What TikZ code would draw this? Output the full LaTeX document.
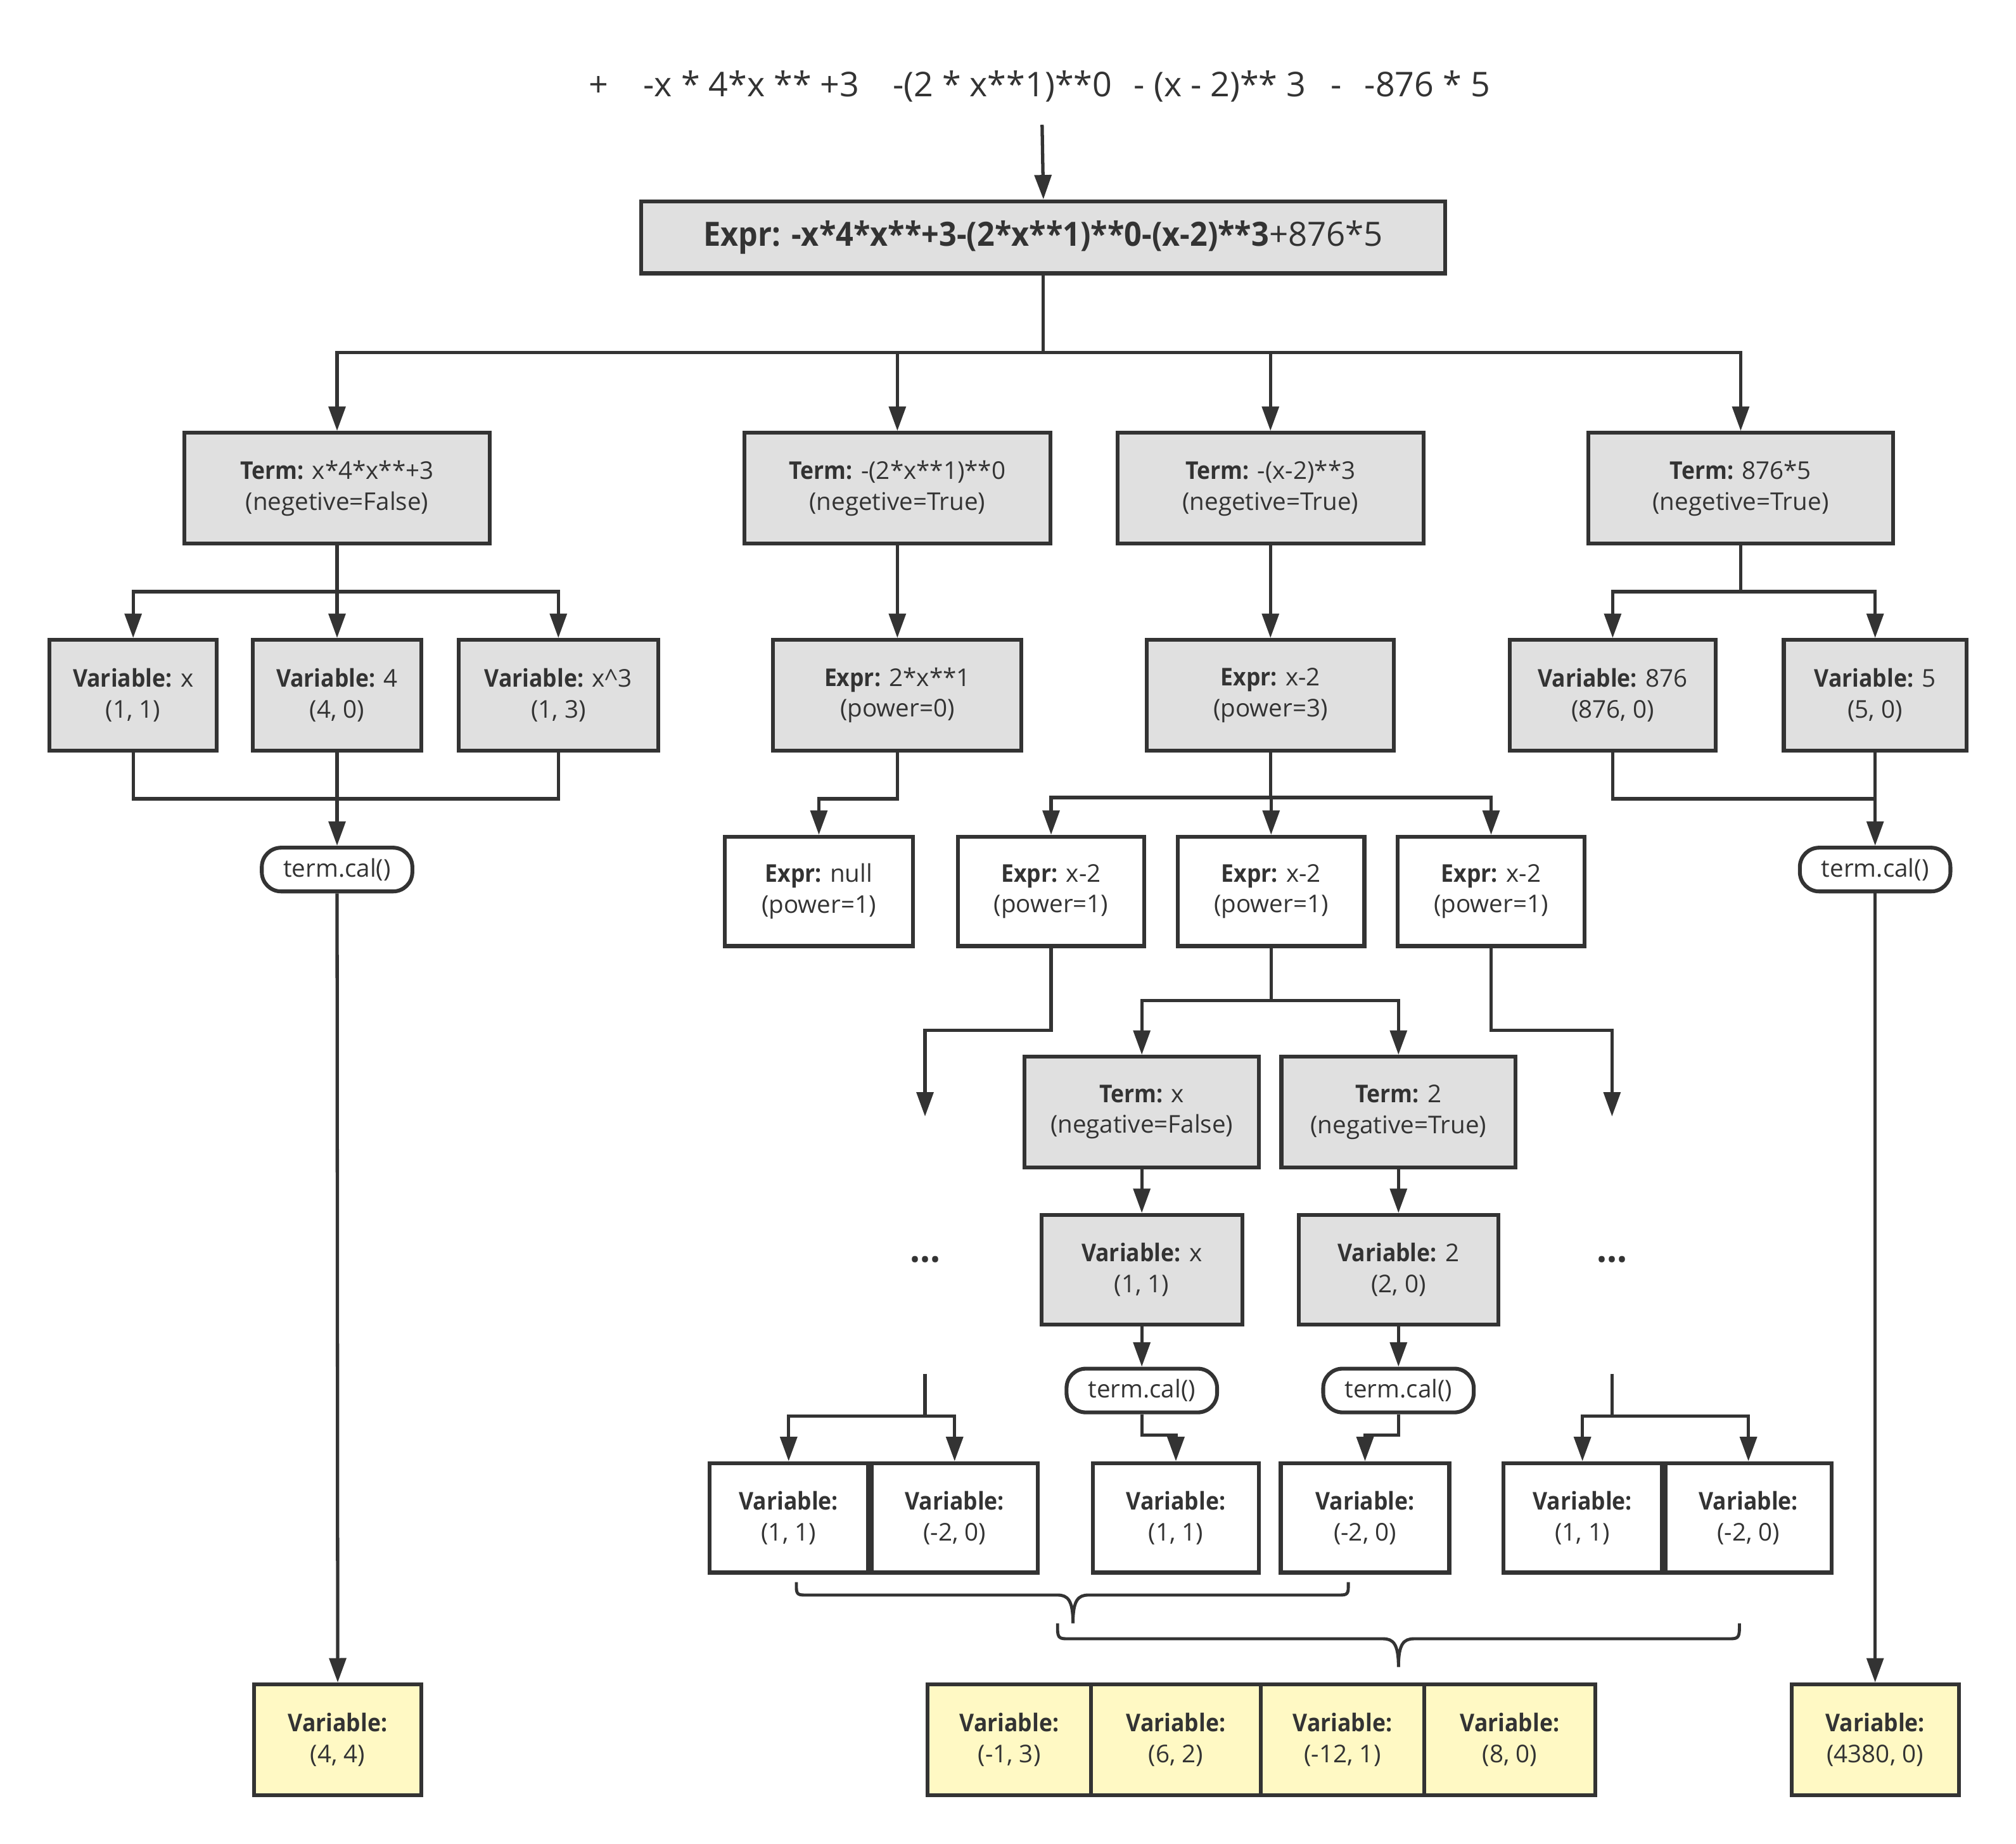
\documentclass[tikz,border=0pt]{standalone}
\usepackage{fontspec}
\setmainfont{Open Sans}[BoldFeatures={FakeStretch=0.92}]
\usetikzlibrary{arrows.meta}
\definecolor{ink}{HTML}{333333}
\definecolor{gfill}{HTML}{E0E0E0}
\definecolor{yfill}{HTML}{FFF9C4}
\begin{document}
\begin{tikzpicture}[x=1pt,y=-1pt,
  base/.style={draw=ink, line width=3pt, text=ink, align=center, inner sep=0pt, font=\fontsize{19}{24}\selectfont},
  sz/.style 2 args={minimum width=#1pt, minimum height=#2pt},
  gbox/.style={base, fill=gfill},
  wbox/.style={base, fill=white},
  ybox/.style={base, fill=yfill},
  pill/.style={base, fill=white, rounded corners=15pt, minimum width=117pt, minimum height=34pt},
  conn/.style={draw=ink, line width=2.6pt},
  arr/.style={conn, -{Triangle[length=19pt,width=13pt]}},
  bracestyle/.style={draw=ink, line width=2.4pt},
  dotsstyle/.style={text=ink, inner sep=0pt, anchor=base, font=\fontsize{30}{30}\selectfont\bfseries},
]
\useasboundingbox (0,0) rectangle (1567,1433.5);

% top
\node[text=ink, font=\fontsize{26.5}{30}\selectfont] (top) at (808,67) {+\hspace{27pt}-x * 4*x ** +3\hspace{26pt}-(2 * x**1)**0\hspace{17pt}- (x - 2)** 3\hspace{19pt}-\hspace{18pt}-876 * 5};
\coordinate (c0) at (810,97);
\node[gbox, sz={625}{56}, font=\fontsize{26}{30}\selectfont] (expr) at (811,184.5) {\textbf{Expr: -x*4*x**+3-(2*x**1)**0-(x-2)**3}+876*5};
\draw[arr] (c0) -- (expr.north);

% terms
\node[gbox, sz={237}{86}] (t1) at (262,379.5) {\textbf{Term:} x*4*x**+3\\(negetive=False)};
\node[gbox, sz={238}{86}] (t2) at (697.5,379.5) {\textbf{Term:} -(2*x**1)**0\\(negetive=True)};
\node[gbox, sz={238}{86}] (t3) at (987.5,379.5) {\textbf{Term:} -(x-2)**3\\(negetive=True)};
\node[gbox, sz={237}{86}] (t4) at (1353,379.5) {\textbf{Term:} 876*5\\(negetive=True)};
\coordinate (j0) at (811,274);
\draw[conn] (expr.south) -- (j0);
\draw[arr] (j0) -| (t1.north);
\draw[arr] (j0) -| (t2.north);
\draw[arr] (j0) -| (t3.north);
\draw[arr] (j0) -| (t4.north);

% branch 1
\node[gbox, sz={130}{86}] (v1) at (103.5,540.5) {\textbf{Variable:} x\\(1, 1)};
\node[gbox, sz={131}{86}] (v2) at (262,540.5) {\textbf{Variable:} 4\\(4, 0)};
\node[gbox, sz={155}{86}] (v3) at (434,540.5) {\textbf{Variable:} x\textasciicircum3\\(1, 3)};
\coordinate (j1) at (262,460);
\draw[conn] (t1.south) -- (j1);
\draw[arr] (j1) -| (v1.north);
\draw[arr] (j1) -- (v2.north);
\draw[arr] (j1) -| (v3.north);
\node[pill] (p1) at (262,676) {term.cal()};
\coordinate (m1) at (262,621);
\draw[conn] (v1.south) |- (m1) -| (v3.south);
\draw[arr] (v2.south) -- (p1.north);
\node[ybox, sz={130}{86}] (y1) at (262.5,1352.5) {\textbf{Variable:}\\(4, 4)};
\draw[arr] (p1.south) -- (y1.north);

% branch 2
\node[gbox, sz={193}{86}] (e2) at (697.5,540.5) {\textbf{Expr:} 2*x**1\\(power=0)};
\draw[arr] (t2.south) -- (e2.north);
\node[wbox, sz={146}{85}] (enull) at (636.5,693) {\textbf{Expr:} null\\(power=1)};
\draw[arr] (e2.south) -- ++(0,36) -| (enull.north);

% branch 3
\node[gbox, sz={192}{86}] (e3) at (987.5,540.5) {\textbf{Expr:} x-2\\(power=3)};
\draw[arr] (t3.south) -- (e3.north);
\node[wbox, sz={145}{85}] (e31) at (817,693) {\textbf{Expr:} x-2\\(power=1)};
\node[wbox, sz={145}{85}] (e32) at (988,693) {\textbf{Expr:} x-2\\(power=1)};
\node[wbox, sz={145}{85}] (e33) at (1159,693) {\textbf{Expr:} x-2\\(power=1)};
\coordinate (j3) at (987.5,620);
\draw[conn] (e3.south) -- (j3);
\draw[arr] (j3) -| (e31.north);
\draw[arr] (j3) -| (e32.north);
\draw[arr] (j3) -| (e33.north);

\coordinate (d1) at (719,868);
\coordinate (d2) at (1253,868);
\draw[arr] (e31.south) -- ++(0,64) -| (d1);
\draw[arr] (e33.south) -- ++(0,64) -| (d2);

\node[gbox, sz={182}{86}] (tx) at (887.5,864.5) {\textbf{Term:} x\\(negative=False)};
\node[gbox, sz={182}{86}] (t2b) at (1087,864.5) {\textbf{Term:} 2\\(negative=True)};
\coordinate (j4) at (988,778);
\draw[conn] (e32.south) -- (j4);
\draw[arr] (j4) -| (tx.north);
\draw[arr] (j4) -| (t2b.north);

\node[gbox, sz={156}{85}] (vx) at (887.5,987) {\textbf{Variable:} x\\(1, 1)};
\node[gbox, sz={155}{85}] (v2b) at (1087,987) {\textbf{Variable:} 2\\(2, 0)};
\draw[arr] (tx.south) -- (vx.north);
\draw[arr] (t2b.south) -- (v2b.north);

\node[dotsstyle] (dots1) at (719,981) {...};
\node[dotsstyle] (dots2) at (1253,981) {...};

\node[pill] (p2) at (887.5,1081) {term.cal()};
\node[pill] (p3) at (1087,1081) {term.cal()};
\draw[arr] (vx.south) -- (p2.north);
\draw[arr] (v2b.south) -- (p3.north);

\node[wbox, sz={123}{85}] (bl1) at (613,1180) {\textbf{Variable:}\\(1, 1)};
\node[wbox, sz={129}{85}] (bl2) at (742,1180) {\textbf{Variable:}\\(-2, 0)};
\node[wbox, sz={129}{85}] (s1) at (914,1180) {\textbf{Variable:}\\(1, 1)};
\node[wbox, sz={131}{85}] (s2) at (1061,1180) {\textbf{Variable:}\\(-2, 0)};
\node[wbox, sz={123}{85}] (br1) at (1230,1180) {\textbf{Variable:}\\(1, 1)};
\node[wbox, sz={129}{85}] (br2) at (1359,1180) {\textbf{Variable:}\\(-2, 0)};

\coordinate (u1) at (719,1068);
\coordinate (u1j) at (719,1101);
\draw[conn] (u1) -- (u1j);
\draw[arr] (u1j) -| (bl1.north);
\draw[arr] (u1j) -| (bl2.north);
\coordinate (u2) at (1253,1068);
\coordinate (u2j) at (1253,1101);
\draw[conn] (u2) -- (u2j);
\draw[arr] (u2j) -| (br1.north);
\draw[arr] (u2j) -| (br2.north);
\draw[arr] (p2.south) -- ++(0,16) -| (s1.north);
\draw[arr] (p3.south) -- ++(0,16) -| (s2.north);

% braces
\draw[bracestyle] (619,1230) -- (619,1234) .. controls (619,1240) and (621,1240) .. (627,1240) -- (822,1240) .. controls (830,1240) and (834,1244) .. (834,1262) .. controls (834,1244) and (838,1240) .. (846,1240) -- (1040,1240) .. controls (1046,1240) and (1048,1240) .. (1048,1234) -- (1048,1230);
\draw[bracestyle] (822,1262) -- (822,1266) .. controls (822,1274) and (824,1274) .. (831,1274) -- (1075,1274) .. controls (1083,1274) and (1087,1278) .. (1087,1296) .. controls (1087,1278) and (1091,1274) .. (1099,1274) -- (1343,1274) .. controls (1350,1274) and (1352,1274) .. (1352,1266) -- (1352,1262);

% yellow group
\node[ybox, sz={127}{86}] (yg1) at (784.5,1352.5) {\textbf{Variable:}\\(-1, 3)};
\node[ybox, sz={132}{86}] (yg2) at (914,1352.5) {\textbf{Variable:}\\(6, 2)};
\node[ybox, sz={127}{86}] (yg3) at (1043.5,1352.5) {\textbf{Variable:}\\(-12, 1)};
\node[ybox, sz={133}{86}] (yg4) at (1173.5,1352.5) {\textbf{Variable:}\\(8, 0)};

% branch 4
\node[gbox, sz={160}{86}] (v876) at (1253.5,540.5) {\textbf{Variable:} 876\\(876, 0)};
\node[gbox, sz={142}{86}] (v5) at (1457.5,540.5) {\textbf{Variable:} 5\\(5, 0)};
\coordinate (j5) at (1353,460);
\draw[conn] (t4.south) -- (j5);
\draw[arr] (j5) -| (v876.north);
\draw[arr] (j5) -| (v5.north);
\node[pill] (p4) at (1457.5,676) {term.cal()};
\coordinate (m4) at (1457.5,621);
\draw[conn] (v876.south) |- (m4);
\draw[arr] (v5.south) -- (p4.north);
\node[ybox, sz={130}{86}] (y4) at (1457.5,1352.5) {\textbf{Variable:}\\(4380, 0)};
\draw[arr] (p4.south) -- (y4.north);
\end{tikzpicture}
\end{document}
